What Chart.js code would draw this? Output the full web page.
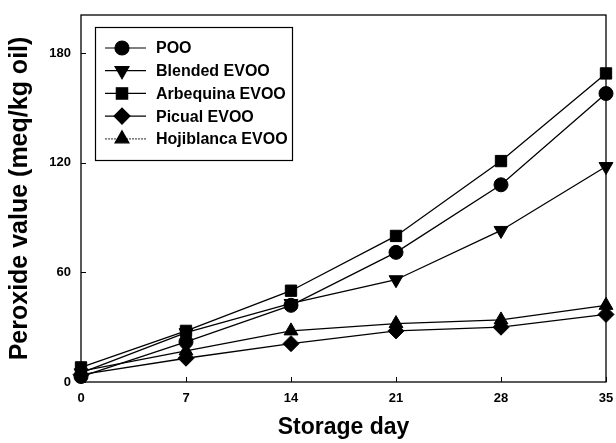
<!DOCTYPE html>
<html>
<head>
<meta charset="utf-8">
<script src="https://cdn.jsdelivr.net/npm/chart.js@4"></script>
<style>
  html, body { margin: 0; padding: 0; background: #fff; }
  #wrap { width: 616px; height: 443px; }
</style>
</head>
<body>
<div id="wrap"><canvas id="c" width="616" height="443"></canvas></div>
<script>
// ==============================
//  DATA
// ==============================
const DAYS       = [0, 7, 14, 21, 28, 35];
const POO        = [3, 22, 42, 71, 108, 158];
const BLENDED    = [5, 27, 43, 56, 83, 118];
const ARBEQUINA  = [8, 28, 50, 80, 121, 169];
const PICUAL     = [4, 13, 21, 28, 30, 37];
const HOJIBLANCA = [6, 17, 28, 32, 34, 42];
const X_TICKS    = [0, 7, 14, 21, 28, 35];
const Y_TICKS    = [0, 60, 120, 180];

const SERIES = [
  { label: 'POO',             data: POO,        style: 'circle',   radius: 7, rot: 0 },
  { label: 'Blended EVOO',    data: BLENDED,    style: 'triangle', radius: 8, rot: 180 },
  { label: 'Arbequina EVOO',  data: ARBEQUINA,  style: 'rect',     radius: 8, rot: 0 },
  { label: 'Picual EVOO',     data: PICUAL,     style: 'rectRot',  radius: 8, rot: 0 },
  { label: 'Hojiblanca EVOO', data: HOJIBLANCA, style: 'triangle', radius: 8, rot: 0 },
];

const FONT = "'Liberation Sans', Arial, sans-serif";

// ==============================
//  PLUGINS
// ==============================
// box round the plot + inward tick marks
const frame = {
  id: 'frame',
  afterDraw(chart) {
    const { ctx, chartArea: a, scales } = chart;
    ctx.save();
    ctx.strokeStyle = '#000';
    ctx.lineWidth = 1.3;
    ctx.strokeRect(a.left, a.top, a.right - a.left, a.bottom - a.top);
    ctx.lineWidth = 1;
    X_TICKS.forEach(v => {
      const x = Math.round(scales.x.getPixelForValue(v)) + 0.5;
      ctx.beginPath(); ctx.moveTo(x, a.bottom); ctx.lineTo(x, a.bottom - 5); ctx.stroke();
    });
    Y_TICKS.forEach(v => {
      const y = Math.round(scales.y.getPixelForValue(v)) + 0.5;
      ctx.beginPath(); ctx.moveTo(a.left, y); ctx.lineTo(a.left + 5, y); ctx.stroke();
    });
    ctx.restore();
  }
};

// legend with line + marker samples
const boxLegend = {
  id: 'boxLegend',
  afterDraw(chart) {
    const { ctx } = chart;
    const left = 95, top = 27, w = 197, h = 133;
    ctx.save();
    ctx.fillStyle = '#fff';
    ctx.fillRect(left, top, w, h);
    ctx.strokeStyle = '#000';
    ctx.lineWidth = 1.2;
    ctx.strokeRect(left + 0.5, top + 0.5, w, h);
    ctx.font = 'bold 16px ' + FONT;
    ctx.textBaseline = 'middle';
    SERIES.forEach((s, i) => {
      const y = 48 + i * 22.7;
      ctx.strokeStyle = i === 4 ? '#555' : '#000';
      ctx.setLineDash(i === 4 ? [2, 1] : []);
      ctx.lineWidth = 1.2;
      ctx.beginPath(); ctx.moveTo(105, y); ctx.lineTo(146, y); ctx.stroke();
      ctx.setLineDash([]);
      ctx.fillStyle = '#000';
      ctx.strokeStyle = '#000';
      Chart.helpers.drawPoint(ctx, {
        pointStyle: s.style, radius: s.radius, rotation: s.rot, borderWidth: 1
      }, 122, y);
      ctx.fillStyle = '#000';
      ctx.fillText(s.label, 156, y + 1);
    });
    ctx.restore();
  }
};

// ==============================
//  CHART
// ==============================
new Chart(document.getElementById('c'), {
  type: 'line',
  data: {
    datasets: SERIES.map(s => ({
      label: s.label,
      data: DAYS.map((d, i) => ({ x: d, y: s.data[i] })),
      borderColor: '#000',
      backgroundColor: '#000',
      borderWidth: 1.3,
      pointStyle: s.style,
      pointRadius: s.radius,
      pointRotation: s.rot,
      pointBorderWidth: 1,
      tension: 0,
      clip: false,
    }))
  },
  options: {
    responsive: false,
    animation: false,
    events: [],
    layout: { padding: { top: 15, right: 10, left: 0, bottom: 0 } },
    plugins: { legend: { display: false }, tooltip: { enabled: false } },
    scales: {
      x: {
        type: 'linear', min: 0, max: 35,
        afterBuildTicks: sc => { sc.ticks = X_TICKS.map(v => ({ value: v })); },
        afterFit: sc => { sc.height = 61; sc.paddingLeft = 0; sc.paddingRight = 0; },
        grid: { display: false, drawTicks: false, tickLength: 0 },
        border: { display: false },
        ticks: { color: '#000', padding: 9, font: { family: FONT, size: 13, weight: 'bold' }, maxRotation: 0 },
        title: { display: true, text: 'Storage day', color: '#000', padding: { top: 0, bottom: 2 },
                 font: { family: FONT, size: 23, weight: 'bold' } }
      },
      y: {
        type: 'linear', min: 0, max: 201,
        afterBuildTicks: sc => { sc.ticks = Y_TICKS.map(v => ({ value: v })); },
        afterFit: sc => { sc.width = 81; sc.paddingTop = 0; sc.paddingBottom = 0; },
        grid: { display: false, drawTicks: false, tickLength: 0 },
        border: { display: false },
        ticks: { color: '#000', padding: 10, font: { family: FONT, size: 13, weight: 'bold' } },
        title: { display: true, text: 'Peroxide value (meq/kg oil)', color: '#000', padding: { top: 5, bottom: 0 },
                 font: { family: FONT, size: 25, weight: 'bold' } }
      }
    }
  },
  plugins: [frame, boxLegend]
});
</script>
</body>
</html>
